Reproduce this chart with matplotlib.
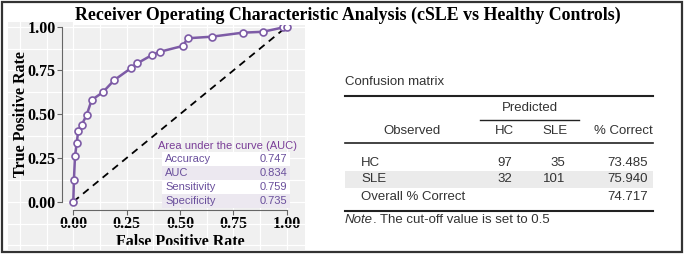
import matplotlib.pyplot as plt
import matplotlib.ticker as mticker
from matplotlib.lines import Line2D
from matplotlib.patches import Rectangle

# Curva ROC
fpr = [0.0, 0.003, 0.008, 0.016, 0.023, 0.039, 0.063, 0.086, 0.138, 0.192, 0.269,
       0.300, 0.367, 0.406, 0.513, 0.536, 0.649, 0.794, 0.888, 0.984, 1.0]
tpr = [0.0, 0.124, 0.26, 0.334, 0.404, 0.438, 0.497, 0.581, 0.625, 0.695, 0.762,
       0.791, 0.837, 0.857, 0.89, 0.934, 0.943, 0.966, 0.971, 0.996, 1.0]
ticks = [0.0, 0.25, 0.5, 0.75, 1.0]

# Métricas do modelo
metric_names = ['Accuracy', 'AUC', 'Sensitivity', 'Specificity']
metric_values = ['0.747', '0.834', '0.759', '0.735']

# Matriz de confusão
observed = ['HC', 'SLE', 'Overall % Correct']
pred_hc = ['97', '32', '']
pred_sle = ['35', '101', '']
pct_correct = ['73.485', '75.940', '74.717']

W, H = 685, 256
serif = 'Liberation Serif'
sans = 'Liberation Sans'


def fx(x):
    return x / W


def fy(y):
    return 1 - y / H


fig = plt.figure(figsize=(W / 100, H / 100), dpi=100)

# Painel cinza do ROC
ax = fig.add_axes([fx(8), fy(250), (305 - 8) / W, (250 - 22) / H])
ax.set_facecolor('#F0F0F0')
ax.set_xlim(-0.306, 1.086)
ax.set_ylim(-0.276, 1.027)

ax.xaxis.set_major_locator(mticker.FixedLocator(ticks))
ax.yaxis.set_major_locator(mticker.FixedLocator(ticks))
ax.xaxis.set_minor_locator(mticker.MultipleLocator(0.125))
ax.yaxis.set_minor_locator(mticker.MultipleLocator(0.125))
ax.xaxis.set_major_formatter(mticker.FormatStrFormatter('%.2f'))
ax.yaxis.set_major_formatter(mticker.FormatStrFormatter('%.2f'))
ax.grid(True, which='both', color='white', linewidth=0.9)
ax.set_axisbelow(True)

for s in ['top', 'right']:
    ax.spines[s].set_visible(False)
ax.spines['left'].set_position(('data', -0.053))
ax.spines['bottom'].set_position(('data', -0.047))
ax.spines['left'].set_bounds(0, 1)
ax.spines['bottom'].set_bounds(0, 1)
for s in ['left', 'bottom']:
    ax.spines[s].set_color('#666666')
    ax.spines[s].set_linewidth(0.8)
ax.tick_params(which='major', length=3.5, width=0.8, color='#666666', pad=1)
ax.tick_params(which='minor', length=0)
for lab in ax.get_xticklabels() + ax.get_yticklabels():
    lab.set_fontfamily(serif)
    lab.set_fontweight('bold')
    lab.set_fontsize(11.5)

ax.plot([0, 1], [0, 1], color='black', linestyle=(0, (4, 3)), linewidth=1.3, zorder=2)
ax.plot(fpr, tpr, color='#7D5BA6', linewidth=1.8, marker='o', markersize=5,
        markerfacecolor='white', markeredgecolor='#7D5BA6', markeredgewidth=1.2, zorder=3)

ax.set_xlabel('False Positive Rate', fontfamily=serif, fontweight='bold', fontsize=11.5,
              va='center')
ax.set_ylabel('True Positive Rate', fontfamily=serif, fontweight='bold', fontsize=11.5,
              va='center')
ax.xaxis.set_label_coords((180 - 8) / 297, (250 - 242) / 228)
ax.yaxis.set_label_coords((21 - 8) / 297, (250 - 114) / 228)

# Caixa de métricas
fig.text(fx(297), fy(146), 'Area under the curve (AUC)', ha='right', va='center',
         fontfamily=sans, fontsize=8, color='#7A3E98')
for i, (name, val) in enumerate(zip(metric_names, metric_values)):
    y0 = 152 + 14 * i
    fig.patches.append(Rectangle((fx(162), fy(y0 + 14)), (290 - 162) / W, 14 / H,
                                 transform=fig.transFigure, facecolor='white' if i % 2 == 0 else '#ECE8F0',
                                 edgecolor='none', zorder=5))
    fig.text(fx(165), fy(y0 + 7), name, ha='left', va='center', fontfamily=sans,
             fontsize=8, color='#6A4F9C', zorder=6)
    fig.text(fx(287), fy(y0 + 7), val, ha='right', va='center', fontfamily=sans,
             fontsize=8, color='#6A4F9C', zorder=6)

# Título
fig.text(fx(348), fy(15), 'Receiver Operating Characteristic Analysis (cSLE vs Healthy Controls)',
         ha='center', va='center', fontfamily=serif, fontweight='bold', fontsize=12.9,
         bbox=dict(facecolor='white', edgecolor='none', pad=1))


# Tabela da matriz de confusão
def hline(y, x0, x1, lw, color='#222222'):
    fig.add_artist(Line2D([fx(x0), fx(x1)], [fy(y), fy(y)], color=color, linewidth=lw,
                          transform=fig.transFigure))


tc = '#333333'
fs = 9.5
fig.text(fx(345), fy(82), 'Confusion matrix', ha='left', va='center', fontfamily=sans, fontsize=fs, color=tc)
hline(96, 345, 653, 1.5)
fig.text(fx(530), fy(108), 'Predicted', ha='center', va='center', fontfamily=sans, fontsize=fs, color=tc)
hline(120, 480, 579, 1.0)
fig.text(fx(412), fy(131), 'Observed', ha='center', va='center', fontfamily=sans, fontsize=fs, color=tc)
fig.text(fx(504), fy(131), 'HC', ha='center', va='center', fontfamily=sans, fontsize=fs, color=tc)
fig.text(fx(555), fy(131), 'SLE', ha='center', va='center', fontfamily=sans, fontsize=fs, color=tc)
fig.text(fx(653), fy(131), '% Correct', ha='right', va='center', fontfamily=sans, fontsize=fs, color=tc)
hline(143, 345, 653, 1.2)

fig.patches.append(Rectangle((fx(345), fy(188)), (653 - 345) / W, 17 / H,
                             transform=fig.transFigure, facecolor='#EBEBEB', edgecolor='none'))
row_y = [163, 179, 197]
for y, o, a, b, c in zip(row_y, observed, pred_hc, pred_sle, pct_correct):
    fig.text(fx(361), fy(y), o, ha='left', va='center', fontfamily=sans, fontsize=fs, color=tc)
    fig.text(fx(512), fy(y), a, ha='right', va='center', fontfamily=sans, fontsize=fs, color=tc)
    fig.text(fx(565), fy(y), b, ha='right', va='center', fontfamily=sans, fontsize=fs, color=tc)
    fig.text(fx(648), fy(y), c, ha='right', va='center', fontfamily=sans, fontsize=fs, color=tc)
hline(211, 345, 653, 1.5)
note = fig.text(fx(345), fy(220), 'Note', ha='left', va='center', fontfamily=sans, fontsize=fs,
                color=tc, style='italic')
ax.annotate('. The cut-off value is set to 0.5', xy=(1, 0.5), xycoords=note,
            ha='left', va='center', fontfamily=sans, fontsize=fs, color=tc,
            annotation_clip=False)

# Moldura
fig.patches.append(Rectangle((fx(1.5), fy(252)), (682 - 1.5) / W, (252 - 1.5) / H,
                             transform=fig.transFigure, fill=False, edgecolor='#333333',
                             linewidth=1.6, zorder=10))

plt.savefig('out.png', dpi=100)
plt.close(fig)
